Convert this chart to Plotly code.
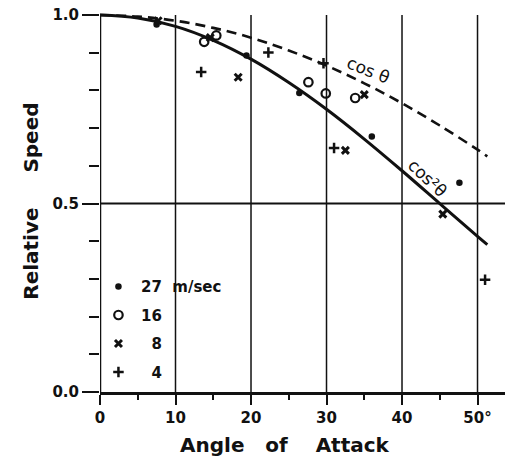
import plotly.graph_objects as go

# ---- data ----
curve_theta = [0, 5, 10, 15, 20, 25, 30, 35, 40, 45, 50, 51.3]
cos_vals = [1.0, 0.996, 0.985, 0.966, 0.940, 0.906, 0.866, 0.819, 0.766, 0.707, 0.643, 0.625]
cos2_vals = [1.0, 0.992, 0.970, 0.933, 0.883, 0.821, 0.750, 0.671, 0.587, 0.500, 0.413, 0.391]

v27_x = [7.5, 19.4, 26.4, 36.0, 47.6]
v27_y = [0.975, 0.893, 0.793, 0.678, 0.555]
v16_x = [13.8, 15.4, 27.6, 29.9, 33.8]
v16_y = [0.929, 0.946, 0.822, 0.792, 0.780]
v8_x = [7.7, 14.6, 18.3, 32.5, 35.0, 45.4]
v8_y = [0.985, 0.940, 0.835, 0.641, 0.789, 0.472]
v4_x = [13.4, 22.3, 29.6, 31.0, 51.0]
v4_y = [0.849, 0.901, 0.872, 0.647, 0.298]

legend_names = ["27\u00a0\u00a0m/sec", "16", "\u20078", "\u20074"]
x_ticks = [0, 10, 20, 30, 40, 50]
x_ticklabels = ["0", "10", "20", "30", "40", "50°"]
y_ticks = [0.0, 0.5, 1.0]
y_ticklabels = ["0.0", "0.5", "1.0"]
grid_x = [10, 20, 30, 40, 50]

XMAX = 53.64
YMAX = 1.032
FONT = "DejaVu Sans"
BLACK = "#111111"

fig = go.Figure()

fig.add_trace(go.Scatter(x=curve_theta, y=cos_vals, mode="lines", line_shape="spline",
                         line=dict(color=BLACK, width=2.6, dash="10px,6px"), showlegend=False))
fig.add_trace(go.Scatter(x=curve_theta, y=cos2_vals, mode="lines", line_shape="spline",
                         line=dict(color=BLACK, width=3), showlegend=False))

fig.add_trace(go.Scatter(x=v27_x, y=v27_y, mode="markers", name=legend_names[0], legendgroup="a",
                         marker=dict(symbol="circle", size=6.5, color=BLACK)))
fig.add_trace(go.Scatter(x=v16_x, y=v16_y, mode="markers", name=legend_names[1], legendgroup="b",
                         marker=dict(symbol="circle-open", size=8.5, color=BLACK, line=dict(width=2.2, color=BLACK))))
fig.add_trace(go.Scatter(x=v8_x, y=v8_y, mode="markers", name=legend_names[2], legendgroup="c",
                         marker=dict(symbol="x-thin-open", size=7, color=BLACK, line=dict(width=3, color=BLACK))))
fig.add_trace(go.Scatter(x=v4_x, y=v4_y, mode="markers", name=legend_names[3], legendgroup="d",
                         marker=dict(symbol="cross-thin-open", size=7.5, color=BLACK, line=dict(width=2.5, color=BLACK))))

shapes = []
for gx in grid_x:
    shapes.append(dict(type="line", xref="x", yref="y", x0=gx, x1=gx, y0=0, y1=1.0,
                       line=dict(color=BLACK, width=1.5), layer="below"))
shapes.append(dict(type="line", xref="x", yref="y", x0=0, x1=XMAX, y0=0.5, y1=0.5,
                   line=dict(color=BLACK, width=2), layer="below"))
shapes.append(dict(type="line", xref="x", yref="y", x0=0, x1=0, y0=0, y1=1.0,
                   line=dict(color=BLACK, width=2.5), layer="below"))

annotations = [
    dict(x=35.5, y=0.853, xref="x", yref="y", text="cos θ", showarrow=False, textangle=22,
         font=dict(family=FONT, size=17, color=BLACK, weight="normal")),
    dict(x=43.4, y=0.569, xref="x", yref="y", text="cos²θ", showarrow=False, textangle=43,
         font=dict(family=FONT, size=17, color=BLACK, weight="normal")),
    dict(x=0.457, y=-0.172, xref="paper", yref="paper", showarrow=False,
         text="Angle\u00a0\u00a0\u00a0of\u00a0\u00a0\u00a0\u00a0Attack",
         font=dict(family=FONT, size=20, color=BLACK, weight="bold")),
    dict(x=-0.204, y=0.49, xref="paper", yref="paper", showarrow=False, textangle=-90,
         text="Relative\u00a0\u00a0\u00a0\u00a0\u00a0Speed",
         font=dict(family=FONT, size=20, color=BLACK, weight="bold")),
]

fig.update_layout(
    width=505, height=470,
    margin=dict(l=100, r=0, t=3, b=78),
    paper_bgcolor="white", plot_bgcolor="white",
    shapes=shapes, annotations=annotations,
    font=dict(family=FONT, color=BLACK, size=15, weight="bold"),
    showlegend=True,
    legend=dict(x=-0.01, y=0.313, xanchor="left", yanchor="top", bgcolor="rgba(0,0,0,0)",
                font=dict(family=FONT, size=15, color=BLACK, weight="bold"),
                tracegroupgap=6, itemwidth=35),
    xaxis=dict(range=[0, XMAX], showgrid=False, zeroline=False, showline=True,
               linecolor=BLACK, linewidth=2.5, tickmode="array", tickvals=x_ticks,
               ticktext=x_ticklabels, ticks="outside", ticklen=10, tickwidth=2, tickcolor=BLACK,
               minor=dict(dtick=5, tick0=0, ticks="outside", ticklen=5, tickwidth=2, tickcolor=BLACK),
               tickfont=dict(family=FONT, size=15, color=BLACK, weight="bold")),
    yaxis=dict(range=[0, YMAX], showgrid=False, zeroline=False, showline=False,
               tickmode="array", tickvals=y_ticks, ticktext=y_ticklabels,
               ticks="outside", ticklen=17, tickwidth=2, tickcolor=BLACK,
               minor=dict(tickvals=[0.1, 0.2, 0.3, 0.4, 0.6, 0.7, 0.8, 0.9], ticks="outside",
                          ticklen=10, tickwidth=2, tickcolor=BLACK),
               tickfont=dict(family=FONT, size=15, color=BLACK, weight="bold")),
)

fig.write_html("out.html")
